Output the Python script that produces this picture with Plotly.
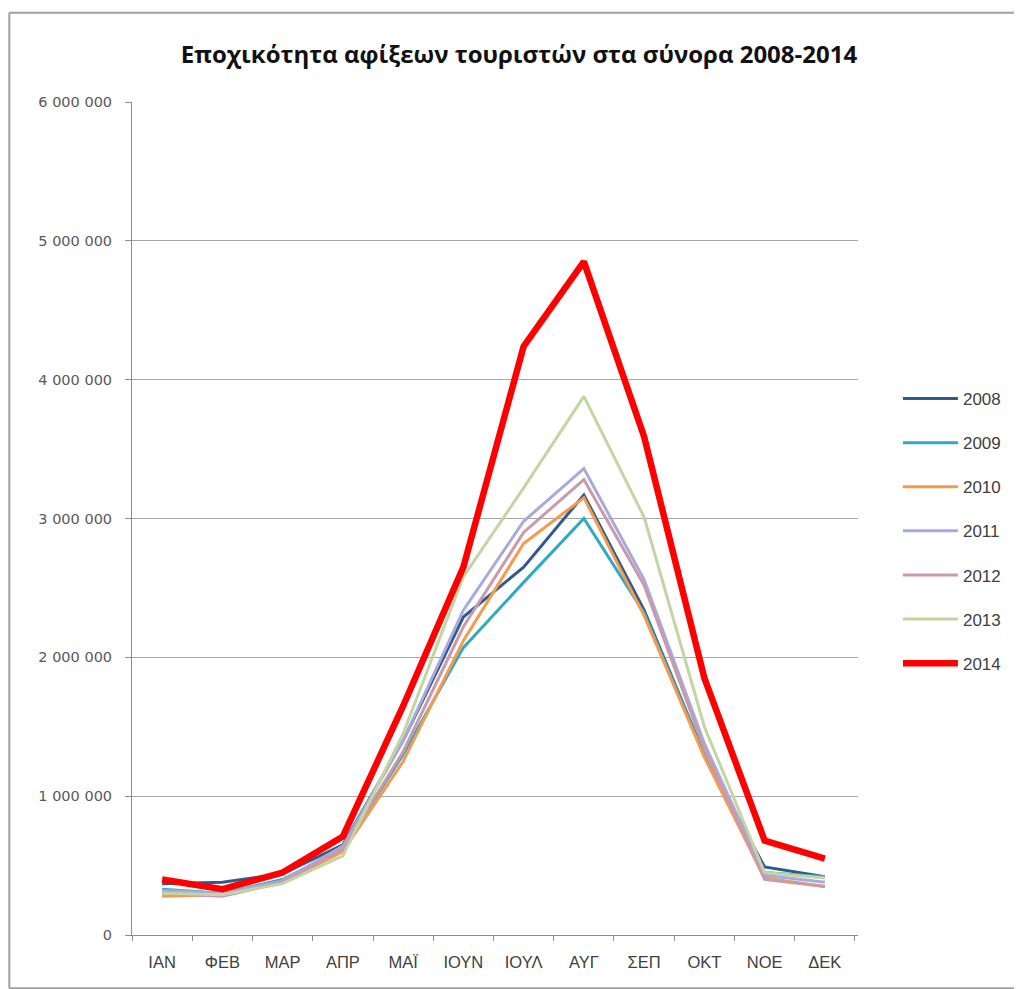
import plotly.graph_objects as go

months = ['IAN', 'ΦΕΒ', 'MAP', 'ΑΠΡ', 'ΜΑΪ', 'ΙΟΥΝ', 'ΙΟΥΛ', 'ΑΥΓ', 'ΣΕΠ', 'ΟΚΤ', 'ΝΟΕ', 'ΔΕΚ']

arr_2008 = [370000, 380000, 440000, 650000, 1400000, 2290000, 2650000, 3170000, 2340000, 1300000, 490000, 420000]
arr_2009 = [330000, 300000, 400000, 620000, 1300000, 2070000, 2540000, 3000000, 2320000, 1300000, 450000, 420000]
arr_2010 = [280000, 290000, 380000, 600000, 1250000, 2120000, 2820000, 3150000, 2300000, 1280000, 410000, 350000]
arr_2011 = [320000, 300000, 390000, 640000, 1400000, 2340000, 2980000, 3360000, 2560000, 1380000, 430000, 380000]
arr_2012 = [300000, 280000, 380000, 620000, 1320000, 2220000, 2900000, 3280000, 2520000, 1340000, 400000, 350000]
arr_2013 = [300000, 290000, 370000, 570000, 1450000, 2580000, 3220000, 3880000, 3010000, 1500000, 450000, 410000]
arr_2014 = [400000, 330000, 450000, 710000, 1650000, 2650000, 4240000, 4850000, 3590000, 1850000, 680000, 550000]

years = ['2008', '2009', '2010', '2011', '2012', '2013', '2014']
series = [arr_2008, arr_2009, arr_2010, arr_2011, arr_2012, arr_2013, arr_2014]
colors = ['#2F5B8A', '#31A9C2', '#F59A4E', '#A7ABDB', '#C99AAD', '#C3D5A3', '#FF0000']
widths = [3, 3, 3, 3, 3, 3, 6.5]

fig = go.Figure()
for name, vals, col, w in zip(years, series, colors, widths):
    fig.add_trace(go.Scatter(x=months, y=vals, name=name, mode='lines',
                             legendgroup=name,
                             line=dict(color=col, width=w)))

# chart frame: left, top and bottom edges only (right edge is off the picture)
frame = dict(color='#A0A0A0', width=2)
fx0, fx1, fy0, fy1 = -0.169, 1.3, -0.064, 1.107
frame_shapes = [
    dict(type='line', xref='paper', yref='paper', x0=fx0, x1=fx0, y0=fy0, y1=fy1, line=frame),
    dict(type='line', xref='paper', yref='paper', x0=fx0, x1=fx1, y0=fy1, y1=fy1, line=frame),
    dict(type='line', xref='paper', yref='paper', x0=fx0, x1=fx1, y0=fy0, y1=fy0, line=frame),
]

# the page body adds an 8px offset, so margins are shifted to compensate
fig.update_layout(
    width=1022, height=989,
    margin=dict(l=124, r=172, t=94, b=62),
    paper_bgcolor='white', plot_bgcolor='white',
    separators='. ',
    font=dict(family='Liberation Sans, Arial', color='#404040'),
    title=dict(text='<b>Εποχικότητα αφίξεων τουριστών στα σύνορα 2008-2014</b>',
               x=0.5, xanchor='center', y=0.953, yanchor='middle',
               font=dict(family='Open Sans', size=24, color='#111111')),
    showlegend=True,
    legend=dict(x=1.055, xanchor='left', y=0.485, yanchor='middle',
                tracegroupgap=19, itemwidth=55,
                font=dict(size=17, color='#404040'),
                bgcolor='rgba(0,0,0,0)'),
    shapes=frame_shapes,
)

fig.update_xaxes(
    showline=True, linecolor='#8C8C8C', linewidth=1,
    ticks='outside', ticklen=5, tickcolor='#8C8C8C',
    tickson='boundaries', showgrid=False,
    ticklabelstandoff=12,
    tickfont=dict(size=16.5, color='#404040'),
    range=[-0.5, 11.55],
)
fig.update_yaxes(
    range=[0, 6000000], dtick=1000000, tickformat=',d',
    showline=True, linecolor='#8C8C8C', linewidth=1,
    ticks='outside', ticklen=6, tickcolor='#8C8C8C',
    showgrid=True, gridcolor='#A6A6A6', gridwidth=1,
    zeroline=False, ticklabelstandoff=10,
    tickfont=dict(family='DejaVu Sans', size=14.5, color='#595959'),
)

fig.write_html("out.html")
